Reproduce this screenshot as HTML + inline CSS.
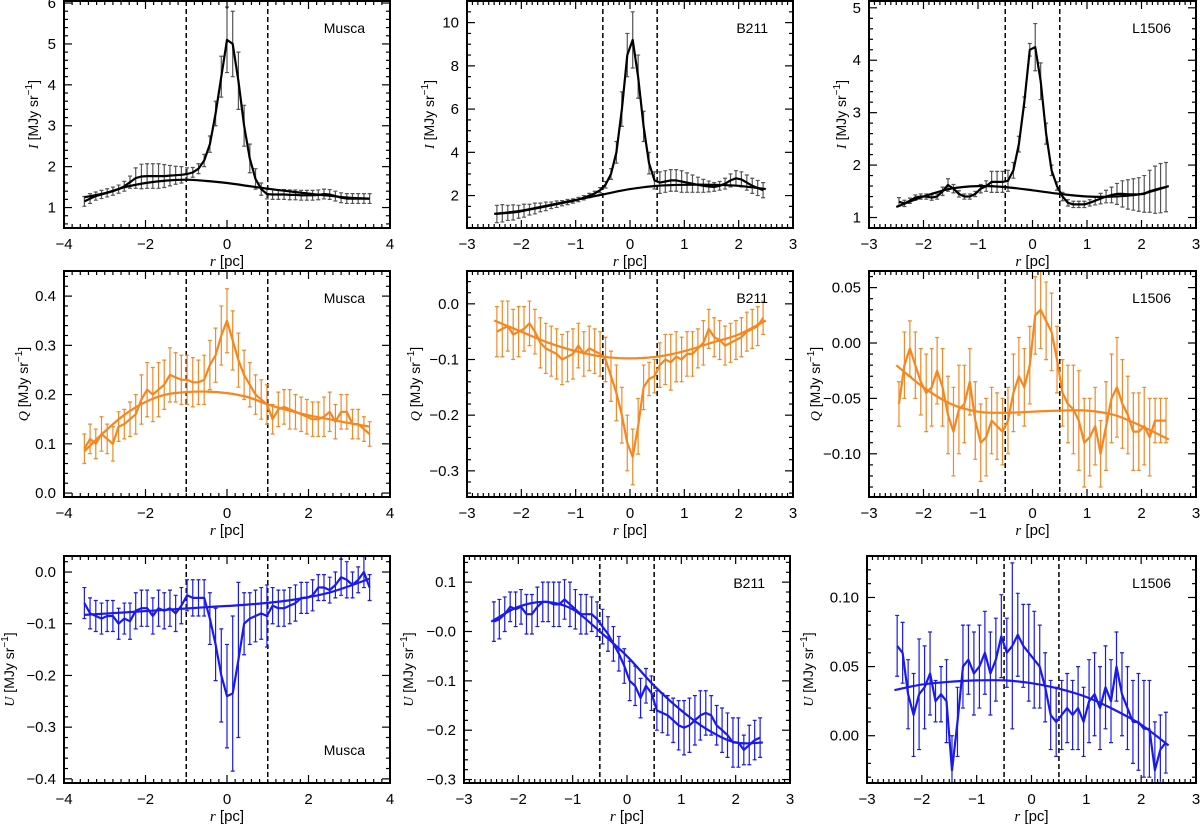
<!DOCTYPE html>
<html><head><meta charset="utf-8"><style>
html,body{margin:0;padding:0;background:#fff;}
svg{display:block;font-family:"Liberation Sans",sans-serif;}
</style></head><body>
<svg id="fig" width="1200" height="824" viewBox="0 0 1200 824" xmlns="http://www.w3.org/2000/svg"></svg>
<script>
// ---------- data ----------
const muscaI = [1.15,1.22,1.28,1.32,1.36,1.40,1.45,1.52,1.62,1.72,1.76,1.77,1.77,1.77,1.77,1.78,1.79,1.80,1.82,1.86,1.95,2.15,2.55,3.3,4.2,5.1,5.0,4.1,3.0,2.2,1.7,1.45,1.33,1.32,1.32,1.32,1.31,1.31,1.30,1.30,1.30,1.31,1.33,1.32,1.28,1.24,1.22,1.22,1.22,1.22,1.22];
const muscaIErr = [0.12,0.12,0.1,0.1,0.1,0.1,0.1,0.12,0.15,0.25,0.3,0.3,0.3,0.3,0.28,0.25,0.22,0.2,0.15,0.12,0.12,0.15,0.2,0.3,0.5,0.8,0.8,0.7,0.5,0.35,0.25,0.15,0.12,0.12,0.12,0.12,0.12,0.12,0.12,0.12,0.12,0.12,0.12,0.12,0.12,0.12,0.12,0.12,0.12,0.12,0.12];
const muscaIFitR = [-3.5,-3,-2.5,-2,-1.5,-1,-0.5,0,0.5,1,1.5,2,2.5,3,3.5];
const muscaIFit = [1.25,1.35,1.5,1.6,1.66,1.68,1.65,1.6,1.53,1.46,1.4,1.34,1.29,1.24,1.22];

const muscaQ = [0.09,0.11,0.10,0.12,0.11,0.10,0.135,0.14,0.15,0.16,0.19,0.21,0.20,0.21,0.22,0.24,0.235,0.23,0.23,0.225,0.225,0.23,0.26,0.28,0.32,0.35,0.31,0.27,0.24,0.22,0.20,0.19,0.18,0.15,0.17,0.175,0.17,0.165,0.16,0.155,0.15,0.15,0.155,0.165,0.145,0.165,0.165,0.14,0.14,0.13,0.12];
const muscaQErr = [0.03,0.03,0.03,0.035,0.03,0.035,0.03,0.03,0.035,0.04,0.05,0.055,0.055,0.055,0.05,0.055,0.05,0.05,0.05,0.05,0.045,0.05,0.05,0.055,0.06,0.065,0.06,0.055,0.05,0.045,0.04,0.04,0.04,0.03,0.035,0.035,0.04,0.035,0.035,0.035,0.035,0.035,0.04,0.04,0.035,0.035,0.035,0.03,0.03,0.025,0.025];
const muscaQFitR = [-3.5,-3,-2.5,-2,-1.5,-1,-0.5,0,0.5,1,1.5,2,2.5,3,3.5];
const muscaQFit = [0.085,0.125,0.16,0.185,0.2,0.205,0.206,0.203,0.195,0.18,0.168,0.158,0.15,0.142,0.135];

const muscaU = [-0.06,-0.08,-0.085,-0.09,-0.085,-0.085,-0.1,-0.09,-0.095,-0.075,-0.07,-0.07,-0.085,-0.07,-0.075,-0.07,-0.08,-0.065,-0.045,-0.05,-0.05,-0.05,-0.09,-0.14,-0.2,-0.24,-0.235,-0.17,-0.1,-0.09,-0.085,-0.08,-0.085,-0.065,-0.07,-0.07,-0.065,-0.06,-0.05,-0.05,-0.045,-0.03,-0.03,-0.035,-0.025,-0.01,-0.015,-0.025,-0.015,0.0,-0.03];
const muscaUErr = [0.03,0.03,0.03,0.03,0.03,0.03,0.03,0.03,0.035,0.035,0.035,0.035,0.035,0.035,0.035,0.035,0.035,0.035,0.03,0.035,0.035,0.035,0.05,0.07,0.09,0.1,0.15,0.15,0.06,0.05,0.05,0.05,0.06,0.035,0.035,0.035,0.035,0.035,0.03,0.03,0.03,0.025,0.025,0.025,0.025,0.035,0.035,0.025,0.025,0.03,0.025];
const muscaUFitR = [-3.5,-2.5,-1.5,-0.5,0.5,1.5,2.5,3.5];
const muscaUFit = [-0.083,-0.078,-0.073,-0.068,-0.063,-0.055,-0.04,-0.013];

const b211I = [1.15,1.18,1.2,1.22,1.25,1.3,1.35,1.4,1.45,1.5,1.55,1.6,1.65,1.7,1.75,1.82,1.9,2.0,2.1,2.25,2.5,3.0,4.0,6.0,8.5,9.2,7.5,5.2,3.5,2.7,2.6,2.65,2.7,2.7,2.65,2.6,2.55,2.5,2.45,2.42,2.4,2.45,2.55,2.7,2.8,2.75,2.6,2.45,2.35,2.25];
const b211IErr = [0.4,0.4,0.35,0.35,0.3,0.3,0.25,0.25,0.2,0.2,0.15,0.15,0.12,0.12,0.1,0.1,0.1,0.1,0.1,0.12,0.15,0.25,0.5,0.8,1.0,1.3,1.0,0.7,0.5,0.4,0.5,0.5,0.5,0.5,0.5,0.45,0.4,0.35,0.3,0.25,0.2,0.2,0.25,0.3,0.35,0.35,0.35,0.35,0.35,0.35];
const b211IFitR = [-2.5,-2,-1.5,-1,-0.5,0,0.5,1,1.5,2,2.5];
const b211IFit = [1.15,1.3,1.55,1.8,2.05,2.3,2.45,2.5,2.5,2.45,2.3];

const b211Q = [-0.05,-0.045,-0.04,-0.055,-0.05,-0.045,-0.035,-0.05,-0.07,-0.08,-0.085,-0.09,-0.1,-0.095,-0.09,-0.075,-0.09,-0.08,-0.085,-0.09,-0.1,-0.13,-0.16,-0.2,-0.25,-0.275,-0.22,-0.15,-0.135,-0.13,-0.11,-0.1,-0.105,-0.095,-0.1,-0.09,-0.09,-0.08,-0.07,-0.045,-0.06,-0.065,-0.075,-0.07,-0.065,-0.06,-0.05,-0.045,-0.04,-0.025];
const b211QErr = [0.045,0.05,0.045,0.045,0.045,0.04,0.04,0.04,0.045,0.045,0.045,0.045,0.045,0.045,0.045,0.04,0.04,0.04,0.04,0.04,0.04,0.045,0.05,0.05,0.05,0.05,0.05,0.04,0.03,0.03,0.04,0.045,0.05,0.045,0.04,0.04,0.04,0.035,0.04,0.035,0.035,0.035,0.035,0.035,0.035,0.035,0.035,0.035,0.035,0.03];
const b211QFitR = [-2.5,-2,-1.5,-1,-0.5,0,0.5,1,1.5,2,2.5];
const b211QFit = [-0.03,-0.05,-0.07,-0.085,-0.095,-0.098,-0.095,-0.085,-0.07,-0.055,-0.03];

const b211U = [0.02,0.025,0.035,0.05,0.045,0.05,0.035,0.035,0.05,0.06,0.06,0.055,0.055,0.065,0.055,0.045,0.035,0.035,0.035,0.025,0.01,-0.005,-0.025,-0.045,-0.07,-0.1,-0.11,-0.135,-0.11,-0.125,-0.16,-0.165,-0.17,-0.18,-0.19,-0.195,-0.19,-0.18,-0.17,-0.165,-0.17,-0.19,-0.2,-0.21,-0.225,-0.225,-0.24,-0.23,-0.22,-0.215];
const b211UErr = [0.04,0.04,0.035,0.03,0.035,0.035,0.04,0.04,0.04,0.04,0.04,0.045,0.045,0.04,0.045,0.04,0.04,0.04,0.035,0.035,0.035,0.035,0.035,0.035,0.035,0.04,0.04,0.04,0.035,0.035,0.04,0.04,0.04,0.045,0.05,0.055,0.055,0.05,0.05,0.045,0.04,0.04,0.045,0.045,0.05,0.05,0.03,0.04,0.04,0.04];
const b211UFitR = [-2.5,-2,-1.5,-1,-0.5,0,0.5,1,1.5,2,2.5];
const b211UFit = [0.02,0.05,0.06,0.045,0.0,-0.05,-0.11,-0.16,-0.2,-0.225,-0.225];

const l1506I = [1.3,1.27,1.32,1.38,1.4,1.4,1.38,1.4,1.5,1.62,1.55,1.45,1.4,1.4,1.45,1.55,1.6,1.68,1.68,1.68,1.7,1.9,2.4,3.2,4.2,4.25,3.6,2.6,1.9,1.6,1.4,1.28,1.25,1.25,1.25,1.28,1.32,1.36,1.4,1.43,1.45,1.45,1.44,1.44,1.44,1.45,1.5,1.53,1.56,1.58];
const l1506IErr = [0.08,0.06,0.05,0.05,0.05,0.05,0.05,0.05,0.08,0.12,0.08,0.06,0.05,0.05,0.05,0.08,0.1,0.2,0.2,0.2,0.2,0.15,0.15,0.1,0.12,0.45,0.35,0.2,0.1,0.08,0.08,0.06,0.06,0.06,0.06,0.06,0.08,0.1,0.12,0.15,0.2,0.25,0.28,0.3,0.32,0.35,0.4,0.45,0.47,0.47];
const l1506IFitR = [-2.5,-2,-1.5,-1,-0.5,0,0.5,1,1.5,2,2.5];
const l1506IFit = [1.2,1.4,1.55,1.6,1.58,1.52,1.45,1.4,1.4,1.45,1.6];

const l1506Q = [-0.055,-0.02,-0.005,-0.02,-0.035,-0.045,-0.04,-0.025,-0.04,-0.065,-0.08,-0.06,-0.055,-0.035,-0.07,-0.09,-0.085,-0.07,-0.075,-0.08,-0.07,-0.045,-0.03,-0.04,-0.02,0.025,0.03,0.02,0.01,-0.015,-0.045,-0.055,-0.06,-0.07,-0.09,-0.085,-0.075,-0.1,-0.075,-0.05,-0.04,-0.055,-0.065,-0.08,-0.08,-0.075,-0.085,-0.07,-0.07,-0.07];
const l1506QErr = [0.02,0.03,0.025,0.03,0.03,0.035,0.035,0.03,0.035,0.035,0.04,0.04,0.035,0.03,0.035,0.035,0.035,0.03,0.03,0.03,0.03,0.035,0.035,0.035,0.035,0.035,0.035,0.035,0.035,0.03,0.03,0.035,0.04,0.045,0.04,0.035,0.035,0.03,0.04,0.04,0.045,0.04,0.035,0.035,0.035,0.035,0.035,0.02,0.02,0.02];
const l1506QFitR = [-2.5,-2,-1.5,-1,-0.5,0,0.5,1,1.5,2,2.5];
const l1506QFit = [-0.02,-0.04,-0.055,-0.062,-0.063,-0.062,-0.061,-0.061,-0.065,-0.075,-0.087];

const l1506U = [0.065,0.06,0.03,0.015,0.03,0.035,0.045,0.025,0.03,0.025,-0.025,0.01,0.05,0.055,0.045,0.05,0.06,0.045,0.055,0.072,0.06,0.065,0.073,0.065,0.06,0.055,0.05,0.035,0.015,0.01,0.015,0.02,0.015,0.02,0.01,0.025,0.03,0.02,0.035,0.025,0.05,0.03,0.02,0.01,0.01,0.005,0.005,-0.025,-0.01,-0.005];
const l1506UErr = [0.022,0.022,0.025,0.03,0.04,0.03,0.03,0.015,0.02,0.03,0.025,0.025,0.03,0.025,0.03,0.03,0.03,0.03,0.03,0.03,0.025,0.06,0.03,0.03,0.035,0.035,0.03,0.025,0.025,0.025,0.025,0.025,0.025,0.03,0.025,0.03,0.03,0.03,0.03,0.03,0.025,0.03,0.03,0.03,0.035,0.035,0.035,0.035,0.025,0.022];
const l1506UFitR = [-2.5,-2,-1.5,-1,-0.5,0,0.5,1,1.5,2,2.5];
const l1506UFit = [0.033,0.037,0.039,0.04,0.04,0.038,0.034,0.028,0.019,0.008,-0.007];

const ticksX4 = [-4,-2,0,2,4];
const ticksX3 = [-3,-2,-1,0,1,2,3];
const muscaITicks = [1,2,3,4,5,6];
const muscaQTicks = [0.0,0.1,0.2,0.3,0.4];
const muscaUTicks = [0.0,-0.1,-0.2,-0.3,-0.4];
const b211ITicks = [2,4,6,8,10];
const b211QTicks = [0.0,-0.1,-0.2,-0.3];
const b211UTicks = [0.1,0.0,-0.1,-0.2,-0.3];
const l1506ITicks = [1,2,3,4,5];
const l1506QTicks = [0.05,0.0,-0.05,-0.10];
const l1506UTicks = [0.10,0.05,0.0];

// ---------- drawing ----------
const NS = "http://www.w3.org/2000/svg";
const svg = document.getElementById('fig');
function mk(tag, attrs, parent){
  const e = document.createElementNS(NS, tag);
  for (const k in attrs) e.setAttribute(k, attrs[k]);
  (parent||svg).appendChild(e);
  return e;
}
const BLACK = {line:'#000', err:'#555'};
const ORANGE = {line:'#f7861e', err:'#f08a2a'};
const BLUE = {line:'#1a1aee', err:'#1a1aee'};

const panels = [
 {id:'musca-i', L:64,R:390,T:1,B:228, xr:[-4,4], xt:ticksX4, xsub:10, yr:[0.5,6.05], yt:muscaITicks, yfmt:v=>v.toFixed(0), ysub:5, v:muscaI, e:muscaIErr, rr:[-3.5,3.5], fr:muscaIFitR, f:muscaIFit, c:BLACK, q:'I', name:'Musca', nameY:'top', dash:1, ylx:38},
 {id:'b211-i', L:467,R:793,T:1,B:228, xr:[-3,3], xt:ticksX3, xsub:10, yr:[0.5,11], yt:b211ITicks, yfmt:v=>v.toFixed(0), ysub:4, v:b211I, e:b211IErr, rr:[-2.45,2.45], fr:b211IFitR, f:b211IFit, c:BLACK, q:'I', name:'B211', nameY:'top', dash:0.5, ylx:434},
 {id:'l1506-i', L:869,R:1196,T:1,B:228, xr:[-3,3], xt:ticksX3, xsub:10, yr:[0.8,5.13], yt:l1506ITicks, yfmt:v=>v.toFixed(0), ysub:5, v:l1506I, e:l1506IErr, rr:[-2.45,2.45], fr:l1506IFitR, f:l1506IFit, c:BLACK, q:'I', name:'L1506', nameY:'top', dash:0.5, ylx:846},
 {id:'musca-q', L:64,R:390,T:271,B:497, xr:[-4,4], xt:ticksX4, xsub:10, yr:[-0.008,0.451], yt:muscaQTicks, yfmt:v=>v.toFixed(1), ysub:5, v:muscaQ, e:muscaQErr, rr:[-3.5,3.5], fr:muscaQFitR, f:muscaQFit, c:ORANGE, q:'Q', name:'Musca', nameY:'top', dash:1, ylx:28},
 {id:'b211-q', L:467,R:793,T:271,B:497, xr:[-3,3], xt:ticksX3, xsub:10, yr:[-0.347,0.059], yt:b211QTicks, yfmt:v=>v.toFixed(1).replace('-0.0','0.0'), ysub:5, v:b211Q, e:b211QErr, rr:[-2.45,2.45], fr:b211QFitR, f:b211QFit, c:ORANGE, q:'Q', name:'B211', nameY:'top', dash:0.5, ylx:420},
 {id:'l1506-q', L:869,R:1196,T:271,B:497, xr:[-3,3], xt:ticksX3, xsub:10, yr:[-0.139,0.065], yt:l1506QTicks, yfmt:v=>v.toFixed(2), ysub:5, v:l1506Q, e:l1506QErr, rr:[-2.45,2.45], fr:l1506QFitR, f:l1506QFit, c:ORANGE, q:'Q', name:'L1506', nameY:'top', dash:0.5, ylx:820},
 {id:'musca-u', L:64,R:390,T:556,B:783, xr:[-4,4], xt:ticksX4, xsub:10, yr:[-0.408,0.031], yt:muscaUTicks, yfmt:v=>v.toFixed(1).replace('-0.0','0.0'), ysub:5, v:muscaU, e:muscaUErr, rr:[-3.5,3.5], fr:muscaUFitR, f:muscaUFit, c:BLUE, q:'U', name:'Musca', nameY:'bottom', dash:1, ylx:14},
 {id:'b211-u', L:464,R:790,T:556,B:783, xr:[-3,3], xt:ticksX3, xsub:10, yr:[-0.307,0.153], yt:b211UTicks, yfmt:v=>(v===0?'-0.0':v.toFixed(1)), ysub:5, v:b211U, e:b211UErr, rr:[-2.45,2.45], fr:b211UFitR, f:b211UFit, c:BLUE, q:'U', name:'B211', nameY:'top', dash:0.5, ylx:413},
 {id:'l1506-u', L:867,R:1196,T:556,B:783, xr:[-3,3], xt:ticksX3, xsub:10, yr:[-0.0342,0.130], yt:l1506UTicks, yfmt:v=>v.toFixed(2), ysub:5, v:l1506U, e:l1506UErr, rr:[-2.45,2.45], fr:l1506UFitR, f:l1506UFit, c:BLUE, q:'U', name:'L1506', nameY:'top', dash:0.5, ylx:813}
];

function spline(pts){
  let d = 'M'+pts[0][0].toFixed(1)+','+pts[0][1].toFixed(1);
  for (let i=0;i<pts.length-1;i++){
    const p0=pts[Math.max(0,i-1)], p1=pts[i], p2=pts[i+1], p3=pts[Math.min(pts.length-1,i+2)];
    const c1=[p1[0]+(p2[0]-p0[0])/6, p1[1]+(p2[1]-p0[1])/6];
    const c2=[p2[0]-(p3[0]-p1[0])/6, p2[1]-(p3[1]-p1[1])/6];
    d+=' C'+c1[0].toFixed(1)+','+c1[1].toFixed(1)+' '+c2[0].toFixed(1)+','+c2[1].toFixed(1)+' '+p2[0].toFixed(1)+','+p2[1].toFixed(1);
  }
  return d;
}

panels.forEach(p=>{
  const g = mk('g',{});
  
  
  const sx = x => p.L + (x-p.xr[0])/(p.xr[1]-p.xr[0])*(p.R-p.L);
  const sy = y => p.B - (y-p.yr[0])/(p.yr[1]-p.yr[0])*(p.B-p.T);
  const clip = 'clip-'+p.id;
  const cp = mk('clipPath',{id:clip},g);
  mk('rect',{x:p.L,y:p.T,width:p.R-p.L,height:p.B-p.T},cp);
  const plot = mk('g',{'clip-path':'url(#'+clip+')'},g);

  // dashed lines
  [-p.dash,p.dash].forEach((d,k)=>{
    const l = mk('line',{x1:sx(d),x2:sx(d),y1:p.T,y2:p.B,stroke:'#000','stroke-width':1.5,'stroke-dasharray':'5,3'},plot);
    
    
  });

  const n = p.v.length;
  const rs = p.v.map((_,i)=> p.rr[0] + i*(p.rr[1]-p.rr[0])/(n-1));
  // error bars
  const eg = mk('g',{stroke:p.c.err,'stroke-width':1.2},plot);
  
  
  p.v.forEach((v,i)=>{
    const x = sx(rs[i]), y1 = sy(v+p.e[i]), y2 = sy(v-p.e[i]);
    const b = mk('path',{d:`M${x},${y1}V${y2}M${x-2},${y1}H${x+2}M${x-2},${y2}H${x+2}`,fill:'none'},eg);
    
    
  });
  // data line
  const dl = mk('polyline',{points:p.v.map((v,i)=>sx(rs[i]).toFixed(1)+','+sy(v).toFixed(1)).join(' '),fill:'none',stroke:p.c.line,'stroke-width':2.2,'stroke-linejoin':'round'},plot);
  
  
  // fit
  const fp = mk('path',{d:spline(p.f.map((v,i)=>[sx(p.fr[i]),sy(v)])),fill:'none',stroke:p.c.line,'stroke-width':2.2},plot);
  
  

  // frame
  mk('rect',{x:p.L,y:p.T,width:p.R-p.L,height:p.B-p.T,fill:'none',stroke:'#000','stroke-width':2},g);
  // ticks
  const tk = mk('g',{stroke:'#000','stroke-width':1.2},g);
  const xstep = p.xt[1]-p.xt[0];
  for (let i=0;i<(p.xt.length-1)*p.xsub;i++){
    const xv = p.xt[0] + i*xstep/p.xsub;
    const len = (i%p.xsub===0)?8:4;
    const X = sx(xv);
    mk('line',{x1:X,x2:X,y1:p.B,y2:p.B-len},tk);
    mk('line',{x1:X,x2:X,y1:p.T,y2:p.T+len},tk);
  }
  const yts = p.yt.slice().sort((a,b)=>a-b);
  const ystep = yts[1]-yts[0];
  for (let v=yts[0]-ystep*2; v<=yts[yts.length-1]+ystep*2+1e-9; v+=ystep/p.ysub){
    if (v<p.yr[0]-1e-9 || v>p.yr[1]+1e-9) continue;
    const k = Math.round((v-yts[0])/(ystep/p.ysub));
    const len = (((k%p.ysub)+p.ysub)%p.ysub===0)?8:4;
    const Y = sy(v);
    mk('line',{x1:p.L,x2:p.L+len,y1:Y,y2:Y},tk);
    mk('line',{x1:p.R,x2:p.R-len,y1:Y,y2:Y},tk);
  }
  // tick labels
  p.xt.forEach(v=>{
    const t = mk('text',{x:sx(v),y:p.B+21,'text-anchor':'middle','font-size':15,fill:'#000'},g);
    t.textContent = v<0 ? '\u2212'+Math.abs(v) : String(v);
    
    
  });
  p.yt.forEach(v=>{
    const t = mk('text',{x:p.L-8,y:sy(v)+5,'text-anchor':'end','font-size':15,fill:'#000'},g);
    t.textContent = p.yfmt(v).replace('-','\u2212');
    
    
  });
  // axis titles
  const xt = mk('text',{x:(p.L+p.R)/2,y:p.B+38,'text-anchor':'middle','font-size':15,fill:'#000'},g);
  xt.innerHTML = '<tspan font-style="italic" font-family="Liberation Serif">r</tspan> [pc]';
  
  
  const cy = (p.T+p.B)/2;
  const yt = mk('text',{x:p.ylx,y:cy,'text-anchor':'middle','font-size':14,fill:'#000',transform:`rotate(-90 ${p.ylx} ${cy})`},g);
  yt.innerHTML = '<tspan font-style="italic" font-family="Liberation Serif">'+p.q+'</tspan> [MJy sr<tspan dy="-6" font-size="10">\u22121</tspan><tspan dy="6">]</tspan>';
  
  
  // name
  const ny = p.nameY==='top' ? p.T+32 : p.B-28;
  const nm = mk('text',{x:p.R-25,y:ny,'text-anchor':'end','font-size':14,fill:'#000'},g);
  nm.textContent = p.name;
  
  
});
</script>
</body></html>
